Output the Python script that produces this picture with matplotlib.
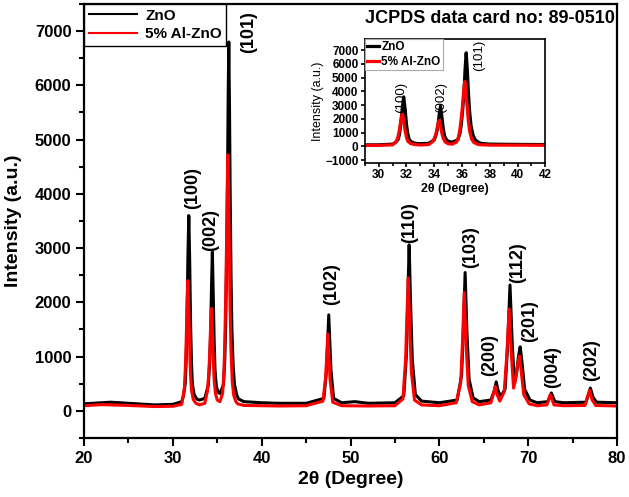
import matplotlib
matplotlib.use("Agg")
import matplotlib.pyplot as plt
from matplotlib.ticker import MultipleLocator

plt.rcParams['font.family'] = ['Liberation Sans', 'DejaVu Sans']
plt.rcParams['font.weight'] = 'bold'

# XRD patterns (2theta in degree, intensity in a.u.)
zno_x = [20, 22, 23, 25, 28, 30, 31.0,
         31.2, 31.4, 31.5, 31.6, 31.7, 31.8, 31.9, 32.0, 32.1, 32.2, 32.4, 32.7, 33.0, 33.6,
         34.0, 34.15, 34.25, 34.35, 34.45, 34.55, 34.65, 34.75, 34.9, 35.1, 35.3,
         35.7, 35.85, 35.95, 36.05, 36.15, 36.22, 36.3, 36.38, 36.45, 36.55, 36.65,
         36.8, 36.95, 37.2, 37.4, 38, 40, 42, 45,
         47.0, 47.3, 47.55, 47.8, 48.1, 49, 50.5, 52, 55,
         56.0, 56.3, 56.45, 56.6, 56.75, 56.95, 57.3, 58, 60,
         62.0, 62.5, 62.7, 62.9, 63.1, 63.35, 63.8, 64.5,
         65.8, 66.2, 66.4, 66.6, 66.9,
         67.4, 67.7, 67.95, 68.2, 68.45, 68.7, 68.9, 69.1, 69.3, 69.6, 70.2, 71,
         72.2, 72.6, 73.0, 74, 76.5, 76.75, 77.0, 77.3, 77.7, 80]
zno_y = [130, 150, 160, 140, 110, 120, 170,
         280, 500, 900, 1700, 2850, 3600, 2750, 1600, 900, 500, 300, 220, 200, 230,
         480, 900, 1400, 2250, 2930, 2150, 1300, 750, 450, 340, 320,
         480, 950, 1600, 2700, 4100, 5600, 6800, 5600, 4100, 2500, 1500,
         800, 480, 290, 220, 170, 150, 140, 140,
         230, 750, 1770, 750, 230, 150, 170, 140, 150,
         280, 1050, 2050, 3060, 2050, 950, 300, 180, 150,
         200, 650, 1450, 2550, 1450, 580, 240, 170,
         200, 380, 535, 380, 260,
         400, 1250, 2320, 1250, 500, 700, 1000, 1180, 900, 400, 200, 150,
         170, 330, 170, 150, 160, 280, 420, 250, 160, 150]

alzno_x = [20, 22, 25, 28, 30, 31.0,
           31.1, 31.3, 31.4, 31.5, 31.6, 31.7, 31.8, 31.9, 32.0, 32.1, 32.3, 32.6, 33.0, 33.6,
           33.9, 34.05, 34.15, 34.25, 34.35, 34.45, 34.55, 34.65, 34.8, 35.0, 35.3,
           35.6, 35.75, 35.85, 35.95, 36.05, 36.12, 36.2, 36.28, 36.35, 36.45, 36.55,
           36.7, 36.85, 37.1, 37.3, 38, 40, 42, 45,
           46.9, 47.2, 47.45, 47.7, 48.0, 49, 52, 55,
           55.9, 56.2, 56.35, 56.5, 56.65, 56.85, 57.2, 58, 60,
           61.9, 62.4, 62.6, 62.8, 63.0, 63.25, 63.7, 64.5,
           65.8, 66.1, 66.3, 66.5, 66.8,
           67.3, 67.6, 67.85, 68.1, 68.35, 68.6, 68.8, 69.0, 69.2, 69.5, 70.1, 71,
           72.1, 72.5, 72.9, 74, 76.4, 76.65, 76.9, 77.2, 77.6, 80]
alzno_y = [95, 115, 100, 80, 85, 120,
           210, 420, 750, 1250, 1950, 2400, 1850, 1150, 650, 380, 210, 140, 110, 140,
           370, 700, 1050, 1550, 1890, 1500, 950, 580, 320, 200, 170,
           320, 700, 1250, 2100, 3100, 4050, 4720, 4050, 3100, 1900, 1100,
           520, 290, 170, 130, 100, 95, 90, 95,
           180, 620, 1420, 580, 160, 95, 90, 95,
           220, 950, 1750, 2450, 1650, 720, 200, 110, 95,
           150, 520, 1250, 2180, 1250, 470, 170, 110,
           150, 320, 450, 300, 180,
           350, 1050, 1880, 1050, 420, 600, 850, 1010, 750, 300, 130, 95,
           110, 300, 110, 95, 100, 250, 380, 200, 100, 90]

# (hkl) labels: text, 2theta, bottom of text
hkl_main = ['(100)', '(002)', '(101)', '(102)', '(110)', '(103)', '(112)',
            '(200)', '(201)', '(004)', '(202)']
hkl_main_x = [32.2, 34.3, 38.5, 47.9, 56.7, 63.5, 68.8, 65.7, 70.2, 72.8, 77.1]
hkl_main_y = [3720, 2950, 6600, 1950, 3100, 2630, 2350, 650, 1270, 420, 550]

hkl_inset = ['(100)', '(002)', '(101)']
hkl_inset_x = [31.6, 34.5, 37.2]
hkl_inset_y = [2450, 2450, 5450]

fig = plt.figure(figsize=(6.29, 4.97), dpi=100)
ax = fig.add_axes([0.1335, 0.1187, 0.8475, 0.8733])

ax.plot(zno_x, zno_y, color='black', lw=2.2, label='ZnO')
ax.plot(alzno_x, alzno_y, color='red', lw=2.2, label='5% Al-ZnO')
ax.set_xlim(20, 80)
ax.set_ylim(-500, 7500)
ax.xaxis.set_major_locator(MultipleLocator(10))
ax.xaxis.set_minor_locator(MultipleLocator(5))
ax.yaxis.set_major_locator(MultipleLocator(1000))
ax.yaxis.set_minor_locator(MultipleLocator(500))
ax.tick_params(which='major', length=5.5, width=1.5, labelsize=12)
ax.tick_params(which='minor', length=3.5, width=1.5)
for s in ax.spines.values():
    s.set_linewidth(1.6)
ax.set_xlabel('2\u03b8 (Degree)', fontsize=14, fontweight='bold', labelpad=4)
ax.set_ylabel('Intensity (a.u.)', fontsize=14, fontweight='bold', labelpad=9)

for t, x, y in zip(hkl_main, hkl_main_x, hkl_main_y):
    ax.text(x, y, t, rotation=90, ha='center', va='bottom', fontsize=13, fontweight='bold')

ax.text(0.995, 0.985, 'JCPDS data card no: 89-0510', transform=ax.transAxes,
        ha='right', va='top', fontsize=13, fontweight='bold')

leg = ax.legend(loc='upper left', fontsize=11, handlelength=3.2, borderaxespad=0.0,
                fancybox=False, edgecolor='black', framealpha=1,
                borderpad=0.3, labelspacing=0.3, handletextpad=0.5)
leg.get_frame().set_linewidth(1.0)
for l in leg.get_lines():
    l.set_linewidth(1.5)

# inset: zoom on the first three peaks
ins = fig.add_axes([0.580, 0.672, 0.287, 0.2495])
ins.plot(zno_x, zno_y, color='black', lw=2.3, label='ZnO')
ins.plot(alzno_x, alzno_y, color='red', lw=2.3, label='5% Al-ZnO')
ins.set_xlim(29, 42)
ins.set_ylim(-1200, 7800)
ins.xaxis.set_major_locator(MultipleLocator(2))
ins.xaxis.set_minor_locator(MultipleLocator(1))
ins.yaxis.set_major_locator(MultipleLocator(1000))
ins.tick_params(which='major', length=3, width=1.2, labelsize=8.5, pad=1.5)
ins.tick_params(which='minor', length=2, width=1.2)
for s in ins.spines.values():
    s.set_linewidth(1.2)
ins.set_xlabel('2\u03b8 (Degree)', fontsize=9, fontweight='bold', labelpad=1)
ins.set_ylabel('Intensity (a.u.)', fontsize=9, fontweight='normal', labelpad=1)
for t, x, y in zip(hkl_inset, hkl_inset_x, hkl_inset_y):
    ins.text(x, y, t, rotation=90, ha='center', va='bottom', fontsize=9.5, fontweight='normal')
ileg = ins.legend(loc='upper left', fontsize=8.5, handlelength=1.0, borderaxespad=0.0,
                  fancybox=False, edgecolor='#aaaaaa', framealpha=1,
                  borderpad=0.2, labelspacing=0.2, handletextpad=0.2)
ileg.get_frame().set_linewidth(0.8)

fig.savefig('out.png', dpi=100)
